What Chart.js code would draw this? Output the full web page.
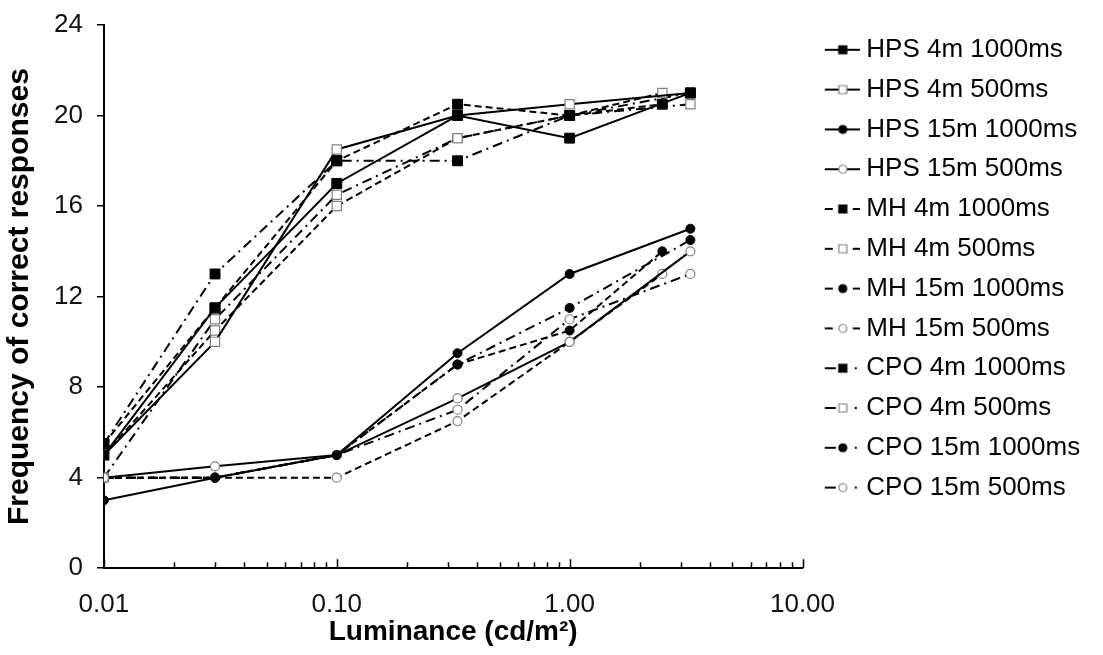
<!DOCTYPE html>
<html>
<head>
<meta charset="utf-8">
<script src="https://cdn.jsdelivr.net/npm/chart.js@4.4.1/dist/chart.umd.min.js"></script>
<style>
  html, body { margin: 0; padding: 0; background: #fff; }
  #wrap { width: 1103px; height: 655px; }
</style>
</head>
<body>
<div id="wrap"><canvas id="grafico"></canvas></div>
<script>
// luminance (cd/m2) where each lamp was tested
let hpsX = [0.01, 0.03, 0.1, 0.33, 1, 3.3];
let mhX  = [0.01, 0.03, 0.1, 0.33, 1, 2.5];
let cpoX = [0.01, 0.03, 0.1, 0.33, 1, 3.3];

// frequency of correct responses
let hps4m1000  = [5, 11.5, 17, 20, 19, 21];
let hps4m500   = [5, 10, 18.5, 20, 20.5, 21];
let hps15m1000 = [3, 4, 5, 9.5, 13, 15];
let hps15m500  = [4, 4.5, 5, 7.5, 10, 14];
let mh4m1000   = [5.5, 11.5, 18, 20.5, 20, 20.5];
let mh4m500    = [5, 10.5, 16, 19, 20, 21];
let mh15m1000  = [4, 4, 5, 9, 10.5, 14];
let mh15m500   = [4, 4, 4, 6.5, 10, 13];
let cpo4m1000  = [5.5, 13, 18, 18, 20, 21];
let cpo4m500   = [4, 11, 16.5, 19, 20, 20.5];
let cpo15m1000 = [4, 4, 5, 9, 11.5, 14.5];
let cpo15m500  = [4, 4, 5, 7, 11, 13];

// axis ticks
let xTicks = [0.01, 0.02, 0.03, 0.04, 0.05, 0.06, 0.07, 0.08, 0.09,
              0.1, 0.2, 0.3, 0.4, 0.5, 0.6, 0.7, 0.8, 0.9,
              1, 2, 3, 4, 5, 6, 7, 8, 9, 10];
let xLabels = [0.01, 0.1, 1, 10];

const FONT = "'Liberation Sans', Arial, sans-serif";
const GREY = "#808080";
const DASHES = { solid: [], dash: [7, 4], dashdot: [10, 5, 2, 5] };

let series = [
  { label: "HPS 4m 1000ms",   x: hpsX, y: hps4m1000,  line: "solid",   mark: "sq", full: true },
  { label: "HPS 4m 500ms",    x: hpsX, y: hps4m500,   line: "solid",   mark: "sq", full: false },
  { label: "HPS 15m 1000ms",  x: hpsX, y: hps15m1000, line: "solid",   mark: "ci", full: true },
  { label: "HPS 15m 500ms",   x: hpsX, y: hps15m500,  line: "solid",   mark: "ci", full: false },
  { label: "MH 4m 1000ms",    x: mhX,  y: mh4m1000,   line: "dash",    mark: "sq", full: true },
  { label: "MH 4m 500ms",     x: mhX,  y: mh4m500,    line: "dash",    mark: "sq", full: false },
  { label: "MH 15m 1000ms",   x: mhX,  y: mh15m1000,  line: "dash",    mark: "ci", full: true },
  { label: "MH 15m 500ms",    x: mhX,  y: mh15m500,   line: "dash",    mark: "ci", full: false },
  { label: "CPO 4m 1000ms",   x: cpoX, y: cpo4m1000,  line: "dashdot", mark: "sq", full: true },
  { label: "CPO 4m 500ms",    x: cpoX, y: cpo4m500,   line: "dashdot", mark: "sq", full: false },
  { label: "CPO 15m 1000ms",  x: cpoX, y: cpo15m1000, line: "dashdot", mark: "ci", full: true },
  { label: "CPO 15m 500ms",   x: cpoX, y: cpo15m500,  line: "dashdot", mark: "ci", full: false }
];

// small line+marker picture for the legend
function muestra(s) {
  let c = document.createElement("canvas");
  c.width = 50; c.height = 16;
  let g = c.getContext("2d");
  g.strokeStyle = "#000"; g.lineWidth = 2;
  let y = 8, mx = 33;
  g.beginPath();
  if (s.line === "solid") { g.moveTo(15, y); g.lineTo(50, y); }
  else if (s.line === "dash") { g.moveTo(15, y); g.lineTo(23, y); g.moveTo(43, y); g.lineTo(50, y); }
  else { g.moveTo(15, y); g.lineTo(26, y); g.moveTo(45, y); g.lineTo(47, y); }
  g.stroke();
  g.fillStyle = s.full ? "#000" : "#fff";
  g.strokeStyle = s.full ? "#000" : GREY;
  g.lineWidth = 1.2;
  g.beginPath();
  if (s.mark === "sq") g.rect(mx - 4, y - 4, 8, 8);
  else g.arc(mx, y, 4, 0, Math.PI * 2);
  g.fill(); g.stroke();
  return c;
}

let datasets = series.map(s => ({
  label: s.label,
  data: s.x.map((v, i) => ({ x: v, y: s.y[i] })),
  borderColor: "#000",
  borderWidth: 2,
  borderDash: DASHES[s.line],
  backgroundColor: s.full ? "#000" : "#fff",
  pointStyle: s.mark === "sq" ? "rect" : "circle",
  pointRadius: s.mark === "sq" ? (s.full ? 7 : 6.5) : 4.5,
  pointBackgroundColor: s.full ? "#000" : "#fff",
  pointBorderColor: s.full ? "#000" : GREY,
  pointBorderWidth: s.full ? 1 : 1.2,
  tension: 0,
  fill: false
}));

// tick marks inside the plot on the log axis
const marcasX = {
  id: "marcasX",
  beforeDatasetsDraw(chart) {
    let xs = chart.scales.x, ctx = chart.ctx;
    ctx.save();
    ctx.strokeStyle = "#000";
    ctx.lineWidth = 1.5;
    xs.ticks.forEach(t => {
      let px = Math.round(xs.getPixelForValue(t.value)) + 0.5;
      let len = xLabels.includes(t.value) ? 9 : 6;
      ctx.beginPath();
      ctx.moveTo(px, xs.top);
      ctx.lineTo(px, xs.top - len);
      ctx.stroke();
    });
    ctx.restore();
  }
};

// a bit more room for the legend text
const anchoLeyenda = {
  id: "anchoLeyenda",
  afterInit(chart) {
    let leg = chart.legend;
    let fitOrig = leg.fit;
    leg.fit = function () { fitOrig.call(this); this.width += 12; };
  }
};

new Chart(document.getElementById("grafico"), {
  type: "line",
  data: { datasets },
  plugins: [marcasX, anchoLeyenda],
  options: {
    responsive: true,
    maintainAspectRatio: false,
    animation: false,
    layout: { padding: { top: 23, right: 17, bottom: 0, left: 0 } },
    plugins: {
      tooltip: { enabled: false },
      legend: {
        position: "right",
        align: "start",
        labels: {
          usePointStyle: true,
          pointStyleWidth: 37,
          padding: 13.8,
          color: "#000",
          font: { family: FONT, size: 26 },
          generateLabels: chart => series.map((s, i) => ({
            text: s.label,
            pointStyle: muestra(s),
            datasetIndex: i,
            fillStyle: "#000",
            strokeStyle: "#000",
            lineWidth: 0,
            hidden: false
          }))
        }
      }
    },
    scales: {
      x: {
        type: "logarithmic",
        min: 0.01,
        max: 10,
        afterBuildTicks: s => { s.ticks = xTicks.map(v => ({ value: v })); },
        border: { color: "#000", width: 2 },
        grid: { display: true, drawOnChartArea: false, drawTicks: false },
        ticks: {
          autoSkip: false,
          maxRotation: 0,
          padding: 21,
          color: "#111",
          font: { family: FONT, size: 26 },
          callback: v => xLabels.includes(v) ? v.toFixed(2) : ""
        },
        title: {
          display: true,
          text: "Luminance (cd/m²)",
          color: "#000",
          font: { family: FONT, size: 28, weight: "bold" },
          padding: { top: -26, bottom: 6 }
        }
      },
      y: {
        min: 0,
        max: 24,
        afterFit: s => { s.paddingTop = 25; },
        border: { color: "#000", width: 2 },
        grid: { drawOnChartArea: false, drawTicks: true, tickLength: 7, color: "#000", lineWidth: 1.5 },
        ticks: {
          stepSize: 4,
          padding: 14,
          color: "#111",
          font: { family: FONT, size: 26 }
        },
        title: {
          display: true,
          text: "Frequency of correct responses",
          color: "#000",
          font: { family: FONT, size: 30, weight: "bold" },
          padding: { top: 2, bottom: 2 }
        }
      }
    }
  }
});
</script>
</body>
</html>
